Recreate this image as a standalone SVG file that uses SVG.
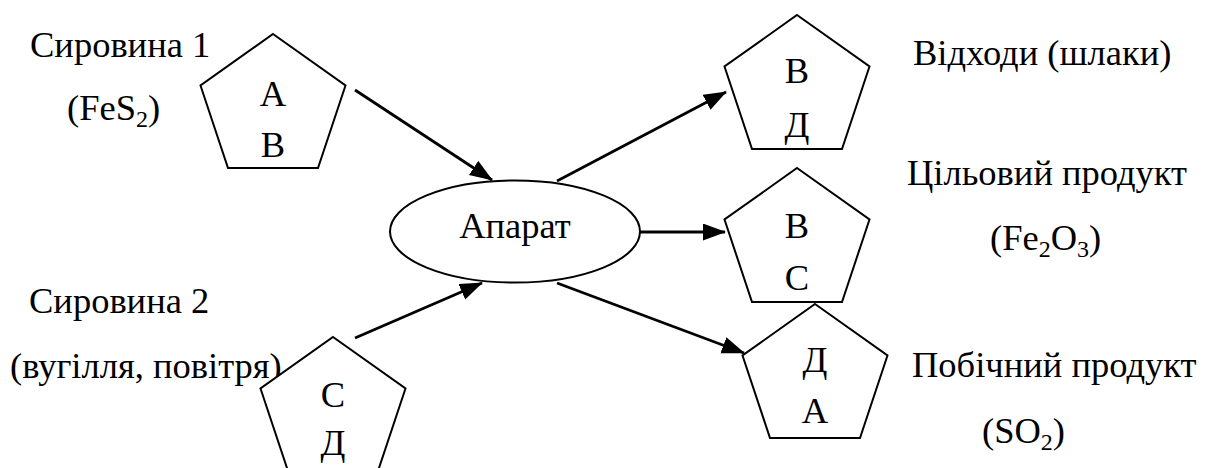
<svg xmlns="http://www.w3.org/2000/svg" width="1210" height="468" viewBox="0 0 1210 468" font-family="'Liberation Serif', 'Times New Roman', Times, serif">
  <style>
    text { font-family: "Liberation Serif", "Times New Roman", Times, serif; font-size: 36.5px; fill: #000; }
    .mid { text-anchor: middle; }
    .sub { font-size: 24px; }
    .shape { fill: #fff; stroke: #000; stroke-width: 2; }
    .flow { fill: none; stroke: #000; stroke-width: 2.8; marker-end: url(#head); }
  </style>
  <defs>
    <!-- regular pentagon, apex at origin -->
    <polygon id="penta" points="0,0 72.5,51.5 45,134 -45,134 -72.5,51.5"/>
    <marker id="head" markerUnits="userSpaceOnUse" markerWidth="24" markerHeight="18" refX="22" refY="8.5" orient="auto">
      <path d="M0,0 L23,8.5 L0,17 Z" fill="#000"/>
    </marker>
  </defs>

  <rect width="1210" height="468" fill="#fff"/>

  <!-- side labels -->
  <g id="labels">
    <text x="30" y="57">Сировина 1</text>
    <text x="67" y="120">(FeS<tspan class="sub" dy="7">2</tspan><tspan dy="-7">)</tspan></text>
    <text x="29" y="313">Сировина 2</text>
    <text x="10" y="378">(вугілля, повітря)</text>
    <text x="913" y="65">Відходи (шлаки)</text>
    <text x="907" y="185">Цільовий продукт</text>
    <text x="990" y="250">(Fe<tspan class="sub" dy="7">2</tspan><tspan dy="-7">O</tspan><tspan class="sub" dy="7">3</tspan><tspan dy="-7">)</tspan></text>
    <text x="912" y="377">Побічний продукт</text>
    <text x="982" y="443">(SO<tspan class="sub" dy="7">2</tspan><tspan dy="-7">)</tspan></text>
  </g>

  <!-- connectors -->
  <g id="connectors">
    <line class="flow" x1="355" y1="90" x2="492" y2="180"/>
    <line class="flow" x1="355" y1="338" x2="482" y2="283"/>
    <line class="flow" x1="557" y1="181" x2="726" y2="92"/>
    <line class="flow" x1="640" y1="232" x2="725" y2="232"/>
    <line class="flow" x1="557" y1="283" x2="744" y2="353"/>
  </g>

  <!-- raw material 1 -->
  <g id="feed1">
    <use href="#penta" class="shape" x="273" y="34"/>
    <text class="mid" x="273" y="106">А</text>
    <text class="mid" x="273" y="157">В</text>
  </g>

  <!-- raw material 2 -->
  <g id="feed2">
    <use href="#penta" class="shape" x="333" y="337"/>
    <text class="mid" x="333" y="407">С</text>
    <text class="mid" x="333" y="455">Д</text>
  </g>

  <!-- reactor -->
  <g id="reactor">
    <ellipse class="shape" cx="515" cy="231.5" rx="125" ry="51"/>
    <text class="mid" x="515" y="238">Апарат</text>
  </g>

  <!-- waste -->
  <g id="waste">
    <use href="#penta" class="shape" x="797" y="15"/>
    <text class="mid" x="797" y="83">В</text>
    <text class="mid" x="797" y="137">Д</text>
  </g>

  <!-- target product -->
  <g id="target">
    <use href="#penta" class="shape" x="797" y="168"/>
    <text class="mid" x="797" y="238">В</text>
    <text class="mid" x="797" y="290">С</text>
  </g>

  <!-- by-product -->
  <g id="byproduct">
    <use href="#penta" class="shape" x="815" y="304"/>
    <text class="mid" x="815" y="372">Д</text>
    <text class="mid" x="815" y="423">А</text>
  </g>
</svg>
